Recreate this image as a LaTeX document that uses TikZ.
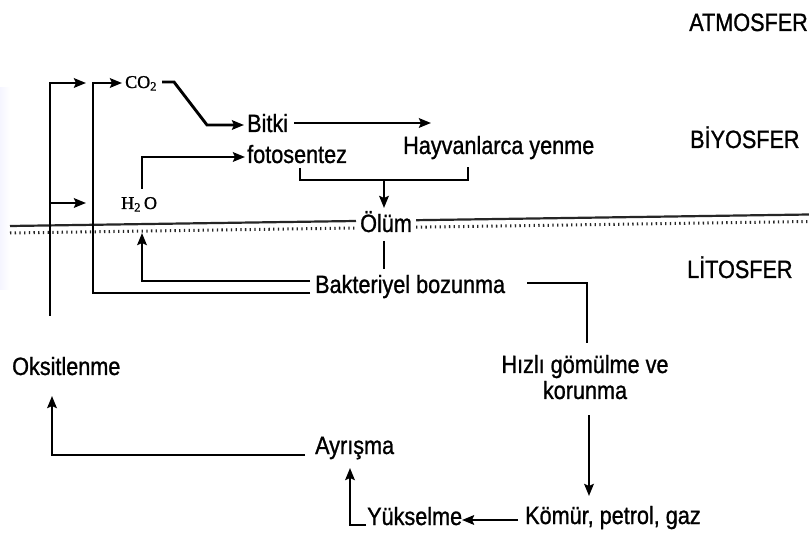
\documentclass[tikz,border=0pt]{standalone}
\usepackage{fontspec}
\setmainfont{Liberation Sans}[FakeStretch=0.865,FakeBold=1]
\newfontfamily\chemfont{Liberation Serif}[FakeBold=1.2]
\usetikzlibrary{arrows.meta}

\begin{document}
\begin{tikzpicture}[x=1pt,y=-1pt,
  lbl/.style={inner sep=0pt, anchor=base west, font=\fontsize{25}{29}\selectfont},
  lblr/.style={lbl, anchor=base east},
  lblc/.style={lbl, anchor=base},
  chem/.style={inner sep=0pt, anchor=base west, font=\chemfont\fontsize{18}{21}\selectfont},
  flow/.style={line width=2.9pt, line cap=butt, line join=miter},
  arr/.style={flow, -{Stealth[length=12pt,width=9.5pt,inset=2pt]}},
  border/.style={line width=2.2pt, black!85},
  borderdots/.style={line width=3pt, black!85, dash pattern=on 1.3pt off 3.4pt},
]
\useasboundingbox (0,0) rectangle (809,537);
\fill[white] (0,0) rectangle (809,537);
% faint band along the left edge
\shade[left color=blue!4, right color=white] (0,88) rectangle (10,290);

% sphere names
\node[lblr] (atm) at (808,31) {ATMOSFER};
\node[lbl]  (bio) at (690,148) {BİYOSFER};
\node[lbl]  (lit) at (687,278) {LİTOSFER};

% process labels
\node[chem] (co2) at (125,88) {CO\textsubscript{2}};
\node[chem] (h2o) at (121,209) {H\textsubscript{2}\,O};
\node[lbl] (bitki) at (247,132) {Bitki};
\node[lbl] (foto)  at (247,163) {fotosentez};
\node[lbl] (hayv)  at (403,154) {Hayvanlarca yenme};
\node[lbl] (olum)  at (360,232) {Ölüm};
\node[lbl] (bak)   at (315,293) {Bakteriyel bozunma};
\node[lblc] (hizli) at (585,373) {Hızlı gömülme ve};
\node[lblc] (koru)  at (585,399) {korunma};
\node[lbl] (komur) at (525,524) {Kömür, petrol, gaz};
\node[lbl] (yuk)   at (367,525) {Yükselme};
\node[lbl] (ayr)   at (315,454) {Ayrışma};
\node[lbl] (oks)   at (12,375) {Oksitlenme};

% biosphere / lithosphere boundary, broken around "Ölüm"
\coordinate (bdL) at (10,226);
\coordinate (bdR) at (809,214.5);
\draw[border] (bdL) -- ([xshift=-4pt]olum.west |- 0,221);
\draw[border] ([xshift=4pt]olum.east |- 0,220.2) -- (bdR);
\draw[borderdots] ([yshift=-7pt]bdL) -- ([xshift=-4pt]olum.west |- 0,228);
\draw[borderdots] ([xshift=4pt]olum.east |- 0,227.2) -- ([yshift=-7pt]bdR);

% oxidation loop
\coordinate (oxbot) at (50,316);
\coordinate (oxtop) at (50,83);
\coordinate (oxmid) at (50,203);
\coordinate (oxcor) at (52,455);
\coordinate (oxtip) at (52,396);
\draw[arr] (oxbot) -- (oxtop) -- (86,83);
\draw[arr] (oxmid) -- (86,203);
\draw[arr] ([xshift=-10pt]ayr.west |- oxcor) -- (oxcor) -- (oxtip);

% decay returns CO2 and H2O
\coordinate (colb) at (93,293);
\coordinate (colt) at (93,83);
\draw[arr] ([xshift=-5pt]bak.west |- colb) -- (colb) -- (colt) -- ([xshift=-3pt]co2.west |- colt);
\coordinate (h2ob) at (142,281);
\coordinate (h2oup) at (142,233);
\draw[arr] ([xshift=-5pt]bak.west |- h2ob) -- (h2ob) -- (h2oup);

% inputs to photosynthesis
\coordinate (coA) at (174,82);
\coordinate (coB) at (207,125);
\draw[arr] ([xshift=5pt]co2.east |- coA) -- (coA) -- (coB) -- ([xshift=-3pt]bitki.west |- coB);
\coordinate (hoA) at (142,189);
\coordinate (hoB) at (142,157);
\draw[arr] (hoA) -- (hoB) -- ([xshift=-2pt]foto.west |- hoB);

% food chain and death
\coordinate (eatTip) at (431,123);
\draw[arr] ([xshift=6pt]bitki.east |- eatTip) -- (eatTip);
\coordinate (brL) at (300,180);
\coordinate (brR) at (468,180);
\draw[flow] (300,168) -- (brL) -- (brR) -- (468,167);
\coordinate (dieA) at (384,180);
\coordinate (dieB) at (384,208);
\draw[arr] (dieA) -- (dieB);
\draw[flow] (384,241) -- (384,269);

% burial branch
\coordinate (burk) at (587,283);
\draw[flow] ([xshift=22pt]bak.east |- burk) -- (burk) -- (587,343);
\coordinate (fosA) at (589,415);
\coordinate (fosB) at (589,496);
\draw[arr] (fosA) -- (fosB);
\coordinate (upR) at (462,520);
\draw[arr] ([xshift=-7pt]komur.west |- upR) -- (upR);
\coordinate (upC) at (350,525);
\coordinate (upT) at (350,468);
\draw[arr] ([xshift=-1pt]yuk.west |- upC) -- (upC) -- (upT);
\end{tikzpicture}
\end{document}
